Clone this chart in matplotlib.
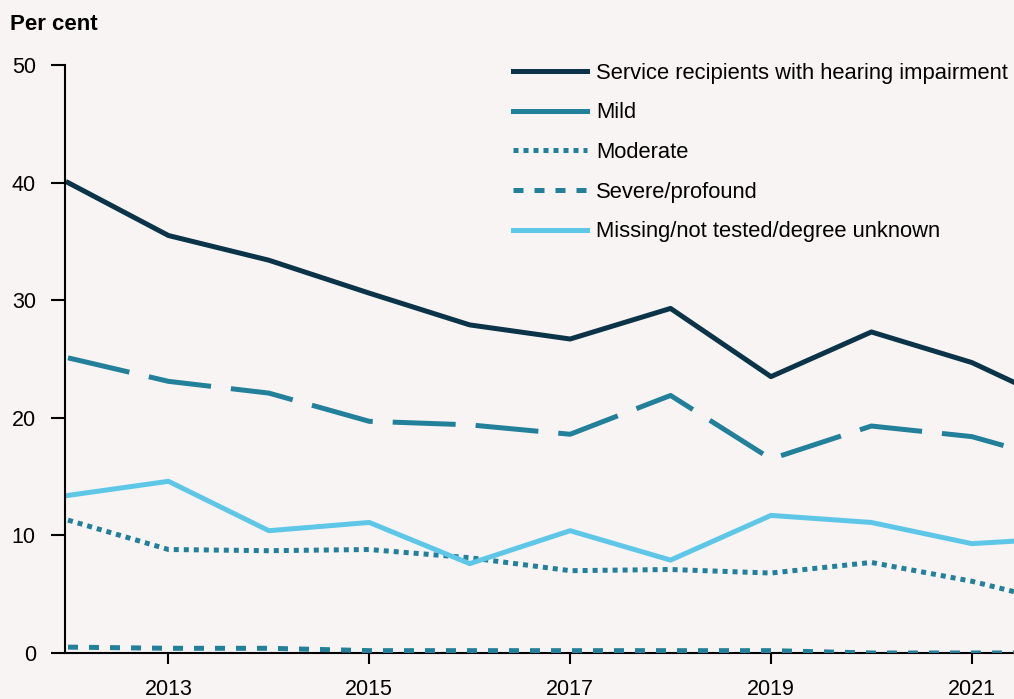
import matplotlib.pyplot as plt

plt.rcParams['font.family'] = ['Liberation Sans', 'DejaVu Sans']

years = [2012, 2013, 2014, 2015, 2016, 2017, 2018, 2019, 2020, 2021, 2022]
all_hi = [40.0, 35.5, 33.4, 30.6, 27.9, 26.7, 29.3, 23.5, 27.3, 24.7, 20.7]
mild = [25.1, 23.1, 22.1, 19.7, 19.4, 18.6, 21.9, 16.5, 19.3, 18.4, 16.0]
moderate = [11.3, 8.8, 8.7, 8.8, 8.1, 7.0, 7.1, 6.8, 7.7, 6.1, 4.0]
severe = [0.5, 0.4, 0.4, 0.2, 0.2, 0.2, 0.2, 0.2, 0.0, 0.0, 0.0]
missing = [13.4, 14.6, 10.4, 11.1, 7.6, 10.4, 7.9, 11.7, 11.1, 9.3, 9.8]

bg = '#f9f4f4'
fig = plt.figure(figsize=(10.14, 6.99), dpi=100, facecolor=bg)
ax = fig.add_axes([65 / 1014, 1 - 653 / 699, 1 - 65 / 1014, (653 - 65) / 699])
ax.set_facecolor(bg)

lw = 3.6
ax.plot(years, all_hi, color='#0b3448', lw=lw, label='Service recipients with hearing impairment')
ax.plot(years, mild, color='#22809a', lw=lw, dashes=(12.6, 4), label='Mild')
ax.plot(years, moderate, color='#22809a', lw=lw, dashes=(1, 1), dash_capstyle='butt', label='Moderate')
ax.plot(years, severe, color='#22809a', lw=lw, dashes=(2, 2.2), label='Severe/profound', zorder=3)
ax.plot(years, missing, color='#5ec7e8', lw=lw, label='Missing/not tested/degree unknown')

ax.set_xlim(2011.97, 2021.42)
ax.set_ylim(0, 50)
ax.set_xticks([2013, 2015, 2017, 2019, 2021])
ax.set_yticks([0, 10, 20, 30, 40, 50])
for s in ['top', 'right']:
    ax.spines[s].set_visible(False)
for s in ['left', 'bottom']:
    ax.spines[s].set_linewidth(1.5)
ax.tick_params(axis='y', length=10, width=1.5, labelsize=15.5, pad=11)
ax.tick_params(axis='x', length=8, width=1.5, labelsize=15.5, pad=10.5)

fig.text(10 / 1014, 1 - 25 / 699, 'Per cent', fontsize=16, fontweight='bold', va='center')

leg = ax.legend(loc='upper left', bbox_to_anchor=(493 / 1014, 1 - 43 / 699), bbox_transform=fig.transFigure,
                frameon=False, fontsize=15.8, handlelength=3.4, labelspacing=0.85, handletextpad=0.4)
for h in leg.get_lines():
    h.set_linewidth(lw)
leg.get_lines()[1].set_dashes((None, None))
leg.get_lines()[1].set_linestyle('-')

fig.savefig('out.png', dpi=100, facecolor=bg)
